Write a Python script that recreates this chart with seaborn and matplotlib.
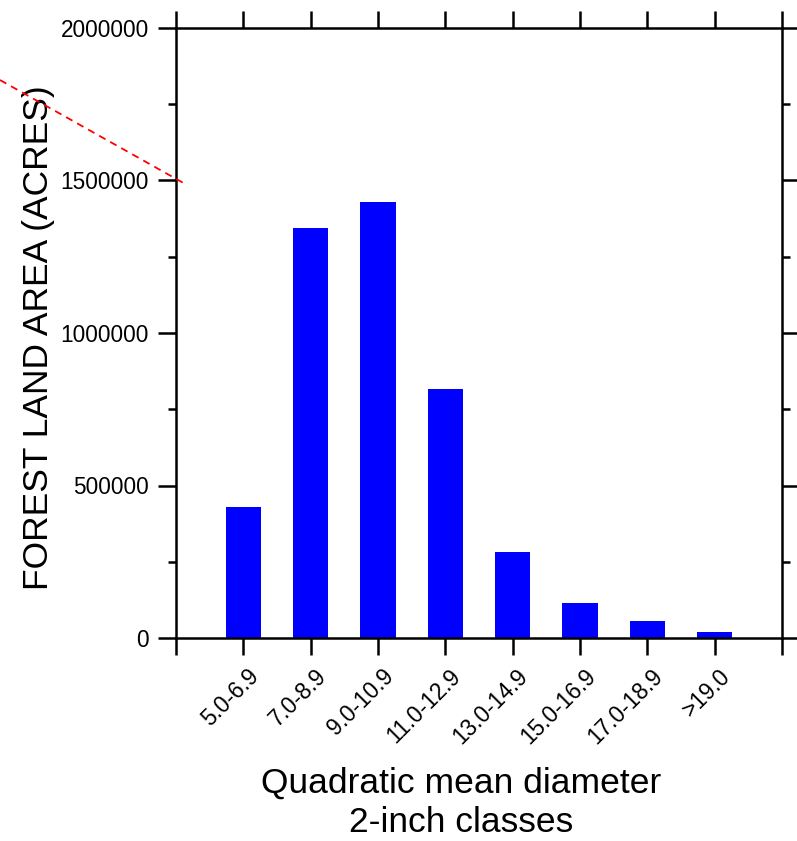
import matplotlib
matplotlib.use("Agg")
import matplotlib.pyplot as plt
from matplotlib.lines import Line2D
from matplotlib.ticker import MultipleLocator
import seaborn as sns
import pandas as pd

categories = ["5.0-6.9", "7.0-8.9", "9.0-10.9", "11.0-12.9",
              "13.0-14.9", "15.0-16.9", "17.0-18.9", ">19.0"]
acres = [430000, 1344000, 1430000, 816000, 283000, 115000, 56000, 21000]

sns.set_theme(style="white")
plt.rcParams['font.family'] = ['Liberation Sans', 'DejaVu Sans']
plt.rcParams['text.color'] = 'black'
plt.rcParams['axes.labelcolor'] = 'black'
plt.rcParams['xtick.color'] = 'black'
plt.rcParams['ytick.color'] = 'black'

df = pd.DataFrame({"cls": categories, "acres": acres})

fig = plt.figure(figsize=(7.97, 8.41), dpi=100)
ax = fig.add_axes([176/797, 1-638/841, (782-176)/797, (638-28)/841])

sns.barplot(data=df, x="cls", y="acres", order=categories, color="#0000FF",
            saturation=1, width=0.52, ax=ax, edgecolor="none", linewidth=0)

ax.set_xlim(-1, len(categories))
ax.set_ylim(0, 2000000)
ax.set_xticks(range(-1, len(categories) + 1))
ax.set_xticklabels([""] * (len(categories) + 2))
for i, cat in enumerate(categories):
    ax.annotate(cat, xy=(i, 0), xycoords=("data", "axes fraction"),
                xytext=(8.6, -25), textcoords="offset points",
                rotation=45, ha="right", va="center", rotation_mode="anchor",
                fontsize=16.3, color="black", annotation_clip=False)

ax.yaxis.set_major_locator(MultipleLocator(500000))
ax.yaxis.set_minor_locator(MultipleLocator(250000))
ax.set_yticks(ax.get_yticks())
ax.set_yticklabels([f"{int(v)}" for v in ax.get_yticks()], fontsize=16.3,
                   color="black")
ax.set_ylim(0, 2000000)

for s in ax.spines.values():
    s.set_visible(True)
    s.set_color("black")
    s.set_linewidth(1.8)

ax.tick_params(axis="x", which="major", direction="out", length=12, width=1.8,
               top=True, bottom=True, color="black", pad=4)
ax.tick_params(axis="y", which="major", direction="out", length=13, width=1.8,
               left=True, right=True, color="black", pad=6.5)
ax.tick_params(axis="y", which="minor", direction="out", length=6, width=1.8,
               left=True, right=True, color="black")

ax.set_xlabel("Quadratic mean diameter\n2-inch classes", fontsize=25.5,
              linespacing=1.22, color="black")
ax.xaxis.set_label_coords((461.5 - 176) / 606, (638 - 767) / 610)
ax.set_ylabel("FOREST LAND AREA (ACRES)", fontsize=25.5, color="black")
ax.yaxis.set_label_coords((55 - 176) / 606, 0.4916)

fig.add_artist(Line2D([0/797, 187/797], [1-80/841, 1-185/841],
                      transform=fig.transFigure, color="red",
                      linestyle=(0, (4, 3)), linewidth=1.3))

fig.savefig("out.png", dpi=100, facecolor="white")
